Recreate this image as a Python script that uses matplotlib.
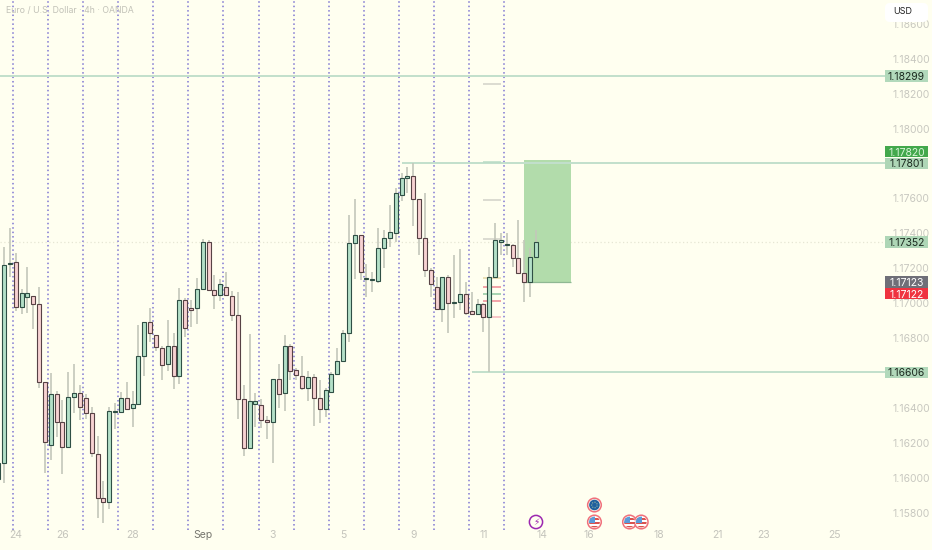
#!/usr/bin/env python3

import matplotlib

matplotlib.use("Agg")
import matplotlib.pyplot as plt
from matplotlib.patches import Circle, FancyBboxPatch, Rectangle

plt.rcParams["font.family"] = ["Inter", "DejaVu Sans"]

opens = [
    1.15997, 1.16089, 1.17225, 1.17237, 1.16980, 1.17037, 1.17043, 1.16997, 1.16552, 1.16191,
    1.16483, 1.16323, 1.16180, 1.16466, 1.16489, 1.16460, 1.16374, 1.16140, 1.15888, 1.15866,
    1.16380, 1.16380, 1.16460, 1.16402, 1.16425, 1.16700, 1.16895, 1.16819, 1.16745, 1.16654,
    1.16757, 1.16586, 1.17020, 1.16974, 1.16974, 1.17083, 1.17352, 1.17077, 1.17048, 1.17094,
    1.17043, 1.16934, 1.16455, 1.16174, 1.16425, 1.16419, 1.16334, 1.16323, 1.16569, 1.16489,
    1.16757, 1.16620, 1.16586, 1.16517, 1.16580, 1.16460, 1.16397, 1.16495, 1.16597, 1.16671,
    1.16831, 1.17346, 1.17391, 1.17140, 1.17134, 1.17128, 1.17317, 1.17374, 1.17403, 1.17620,
    1.17717, 1.17729, 1.17597, 1.17374, 1.17191, 1.17094, 1.16969, 1.17151, 1.17003, 1.17008,
    1.17054, 1.16957, 1.16940, 1.16997, 1.16923, 1.17151, 1.17352, 1.17334, 1.17334, 1.17260,
    1.17174, 1.17123, 1.17266,
]
closes = [
    1.16089, 1.17219, 1.17230, 1.16980, 1.17060, 1.17060, 1.16997, 1.16552, 1.16209, 1.16483,
    1.16323, 1.16180, 1.16466, 1.16489, 1.16408, 1.16374, 1.16146, 1.15888, 1.15866, 1.16385,
    1.16385, 1.16460, 1.16397, 1.16425, 1.16700, 1.16895, 1.16831, 1.16751, 1.16648, 1.16757,
    1.16586, 1.17020, 1.16860, 1.16963, 1.17083, 1.17352, 1.17077, 1.17048, 1.17111, 1.17048,
    1.16934, 1.16455, 1.16174, 1.16442, 1.16442, 1.16334, 1.16323, 1.16569, 1.16483, 1.16757,
    1.16614, 1.16591, 1.16517, 1.16580, 1.16460, 1.16397, 1.16506, 1.16597, 1.16671, 1.16831,
    1.17346, 1.17391, 1.17180, 1.17145, 1.17139, 1.17317, 1.17374, 1.17409, 1.17631, 1.17717,
    1.17729, 1.17597, 1.17374, 1.17191, 1.17111, 1.16969, 1.17151, 1.17003, 1.17008, 1.17054,
    1.16946, 1.16940, 1.16997, 1.16923, 1.17151, 1.17363, 1.17363, 1.17338, 1.17260, 1.17174,
    1.17123, 1.17266, 1.17352,
]
highs = [
    1.16089, 1.17323, 1.17431, 1.17289, 1.17083, 1.17208, 1.17043, 1.17094, 1.16552, 1.16603,
    1.16500, 1.16448, 1.16609, 1.16654, 1.16534, 1.16483, 1.16408, 1.16243, 1.15985, 1.16408,
    1.16431, 1.16495, 1.16552, 1.16500, 1.16877, 1.16895, 1.16974, 1.16819, 1.16757, 1.16906,
    1.16831, 1.17088, 1.17031, 1.17020, 1.17145, 1.17369, 1.17363, 1.17162, 1.17140, 1.17180,
    1.17071, 1.17066, 1.16534, 1.16825, 1.16489, 1.16455, 1.16357, 1.16569, 1.16654, 1.16819,
    1.16768, 1.16631, 1.16700, 1.16614, 1.16597, 1.16563, 1.16517, 1.16609, 1.16745, 1.16848,
    1.17505, 1.17597, 1.17391, 1.17225, 1.17180, 1.17431, 1.17420, 1.17563, 1.17660, 1.17746,
    1.17780, 1.17803, 1.17597, 1.17631, 1.17203, 1.17151, 1.17151, 1.17162, 1.17277, 1.17312,
    1.17123, 1.17066, 1.17026, 1.17003, 1.17208, 1.17460, 1.17403, 1.17403, 1.17340, 1.17477,
    1.17363, 1.17317, 1.17420,
]
lows = [
    1.15997, 1.15974, 1.17151, 1.16957, 1.16940, 1.16946, 1.16855, 1.16517, 1.16031, 1.16106,
    1.16237, 1.16025, 1.16180, 1.16374, 1.16334, 1.16340, 1.16123, 1.15774, 1.15746, 1.15826,
    1.16283, 1.16380, 1.16391, 1.16294, 1.16425, 1.16586, 1.16780, 1.16728, 1.16563, 1.16614,
    1.16512, 1.16540, 1.16808, 1.16866, 1.16883, 1.17083, 1.17077, 1.16969, 1.17014, 1.17048,
    1.16900, 1.16340, 1.16129, 1.16174, 1.16294, 1.16288, 1.16226, 1.16089, 1.16402, 1.16385,
    1.16563, 1.16563, 1.16506, 1.16442, 1.16300, 1.16317, 1.16351, 1.16489, 1.16597, 1.16671,
    1.16780, 1.17140, 1.17134, 1.17037, 1.17066, 1.17117, 1.17203, 1.17323, 1.17352, 1.17585,
    1.17631, 1.17443, 1.17277, 1.17151, 1.17037, 1.16969, 1.16895, 1.16831, 1.16917, 1.16963,
    1.16934, 1.16940, 1.16934, 1.16837, 1.16609, 1.17151, 1.17277, 1.17277, 1.17208, 1.17168,
    1.17008, 1.17037, 1.17266,
]

session_bars = [2.54 + 6 * k for k in range(15)]
date_ticks = [3, 11, 23, 35, 47, 59, 71, 83, 93, 101, 113, 123, 131, 143]
date_labels = ["24", "26", "28", "Sep", "3", "5", "9", "11", "14", "16", "18", "21", "23", "25"]
# 1.17800 and 1.16600 sit fully behind the price tags
price_ticks = [1.158, 1.160, 1.162, 1.164, 1.168, 1.170, 1.172, 1.174, 1.176, 1.180, 1.182, 1.184, 1.186]

# price, first bar, colour
level_lines = [
    (1.18299, 0.3, "#c2e0cc"),
    (1.17801, 69, "#c2e0cc"),
    (1.16606, 81, "#c2e0cc"),
]
stub_prices = [1.18254, 1.17808, 1.17591, 1.17369, 1.17145, 1.17094, 1.17054, 1.17014, 1.16923]
stub_colors = ["#d2d2c8", "#b9dcc6", "#d2d2c8", "#d2d2c8", "#e6d9a8", "#ee8a94", "#8fc9a0", "#ee8a94", "#f5b7bd"]

# the axis pushes colliding tags apart, so the tag centre is not always the price
tag_prices = [1.18299, 1.17820, 1.17801, 1.17352, 1.17123, 1.17122, 1.16606]
tag_centres = [1.18299, 1.17868, 1.17801, 1.17352, 1.17123, 1.17056, 1.16606]
tag_fill = ["#b2d9bb", "#43a84c", "#aed6b6", "#aed6b6", "#6f6f78", "#ef3340", "#b2d9bb"]
tag_text = ["#1c2b20", "#d8f5d8", "#1c2b20", "#1c2b20", "#ffffff", "#ffffff", "#1c2b20"]

target_top = 1.17820
target_bottom = 1.17123
target_bars = (90, 98)

us_event_bars = [102, 108, 110]
eu_event_bar = 102
news_event_bar = 92


def bar_px(i):
    return -1.846 + 5.846 * i


def draw_us_flag(ax, x, y):
    ring = Circle((x, y), 6.8, fc="#fffff0", ec="#f0707c", lw=1.1, zorder=6)
    ax.add_patch(ring)
    clip = Circle((x, y), 5.4, transform=ax.transData)
    for k, color in enumerate(["#ffffff", "#d9534f", "#ffffff", "#d9534f", "#ffffff", "#d9534f"]):
        stripe = Rectangle((x - 6, y - 6 + 2 * k), 12, 2, fc=color, ec="none", zorder=7)
        ax.add_patch(stripe)
        stripe.set_clip_path(clip)
    canton = Rectangle((x - 6, y - 6), 6.5, 6.5, fc="#5b9bd9", ec="none", zorder=8)
    ax.add_patch(canton)
    canton.set_clip_path(clip)


fig = plt.figure(figsize=(9.32, 5.5), dpi=100, facecolor="#fffff0")
ax = fig.add_axes([0, 0, 1, 1], facecolor="#fffff0")
ax.set_xlim(0.316, 159.74)
ax.set_ylim(1.155914, 1.187343)
ax.set_axisbelow(True)
for spine in ax.spines.values():
    spine.set_visible(False)

ax.set_xticks(date_ticks)
ax.set_xticklabels(date_labels)
ax.tick_params(axis="x", length=0, pad=-14.5, labelsize=7.5, labelcolor="#c4c4bc")
ax.get_xticklabels()[3].set_color("#77776f")
ax.yaxis.tick_right()
ax.set_yticks(price_ticks)
ax.set_yticklabels([f"{p:.5f}" for p in price_ticks])
ax.tick_params(axis="y", length=0, pad=-28.5, labelsize=7.5, labelcolor="#c8c8c0")
for label in ax.get_yticklabels():
    label.set_ha("left")

ax.vlines(session_bars, 1.15706, 1.187343, color="#7f76d2", lw=1.1, linestyles=(0, (1, 1.9)), zorder=1)
ax.hlines(1.17352, 0.3, 151.7, color="#e6e6d4", lw=0.9, linestyles=(0, (1, 2)), zorder=1)

ax.add_patch(Rectangle((target_bars[0], target_bottom), target_bars[1] - target_bars[0], target_top - target_bottom,
                       fc="#b2dcab", ec="none", zorder=1.5))
ax.hlines(target_bottom, target_bars[0], target_bars[1], color="#8fb893", lw=0.9, zorder=1.6)

for price, start, color in level_lines:
    ax.hlines(price, start, 151.7, color=color, lw=1.4, zorder=2)
ax.hlines(stub_prices, 83, 86, colors=stub_colors, lw=1.1, zorder=2)

bars = range(len(opens))
ax.vlines(bars, lows, highs, color="#c4c7ba", lw=1.2, zorder=3)
for i, o, c in zip(bars, opens, closes):
    up = c >= o
    ax.bar(i, max(abs(c - o), 0.00004), bottom=min(o, c), width=0.68,
           color="#b4e0c8" if up else "#f7d2d2", edgecolor="#2f4f45" if up else "#574245", linewidth=0.8, zorder=4)

for price, centre, fill, txt in zip(tag_prices, tag_centres, tag_fill, tag_text):
    ax.add_patch(Rectangle((884.7 / 932, centre - 0.00033), 43 / 932, 0.00066, transform=ax.get_yaxis_transform(),
                           fc=fill, ec="none", zorder=5))
    ax.text(906.5 / 932, centre, f"{price:.5f}", transform=ax.get_yaxis_transform(), ha="center", va="center_baseline",
            fontsize=7.5, color=txt, zorder=6)

fig.text(6 / 932, 1 - 10.5 / 550, "Euro / U.S. Dollar · 4h · OANDA", fontsize=6.3, color="#c2c2b8", va="center", zorder=5)

# overlay in pixels for the pill and the event icons
over = fig.add_axes([0, 0, 1, 1], facecolor="none")
over.set_xlim(0, 932)
over.set_ylim(550, 0)
over.axis("off")
over.add_patch(FancyBboxPatch((885, 3), 43, 19, boxstyle="round,pad=0,rounding_size=5", fc="#ffffff", ec="none", zorder=5))
over.text(893, 11, "USD", fontsize=6.5, color="#222222", va="center", zorder=6)

for bar in us_event_bars:
    draw_us_flag(over, bar_px(bar), 522)

eu_x = bar_px(eu_event_bar)
over.add_patch(Circle((eu_x, 505), 6.8, fc="#fffff0", ec="#f0707c", lw=1.1, zorder=6))
over.add_patch(Circle((eu_x, 505), 5.3, fc="#1f5f9e", ec="none", zorder=7))
over.add_patch(Circle((eu_x, 505), 2.8, fc="none", ec="#7fa6a0", lw=0.9, ls=(0, (1, 1)), zorder=8))

news_x = bar_px(news_event_bar)
over.add_patch(Circle((news_x, 522), 6.6, fc="#fffff0", ec="#9c27b0", lw=1.1, zorder=6))
over.text(news_x, 522, "⚡", fontsize=6.5, color="#9c27b0", ha="center", va="center", family="DejaVu Sans", zorder=7)

fig.savefig("out.png", dpi=100, facecolor=fig.get_facecolor())
plt.close(fig)
